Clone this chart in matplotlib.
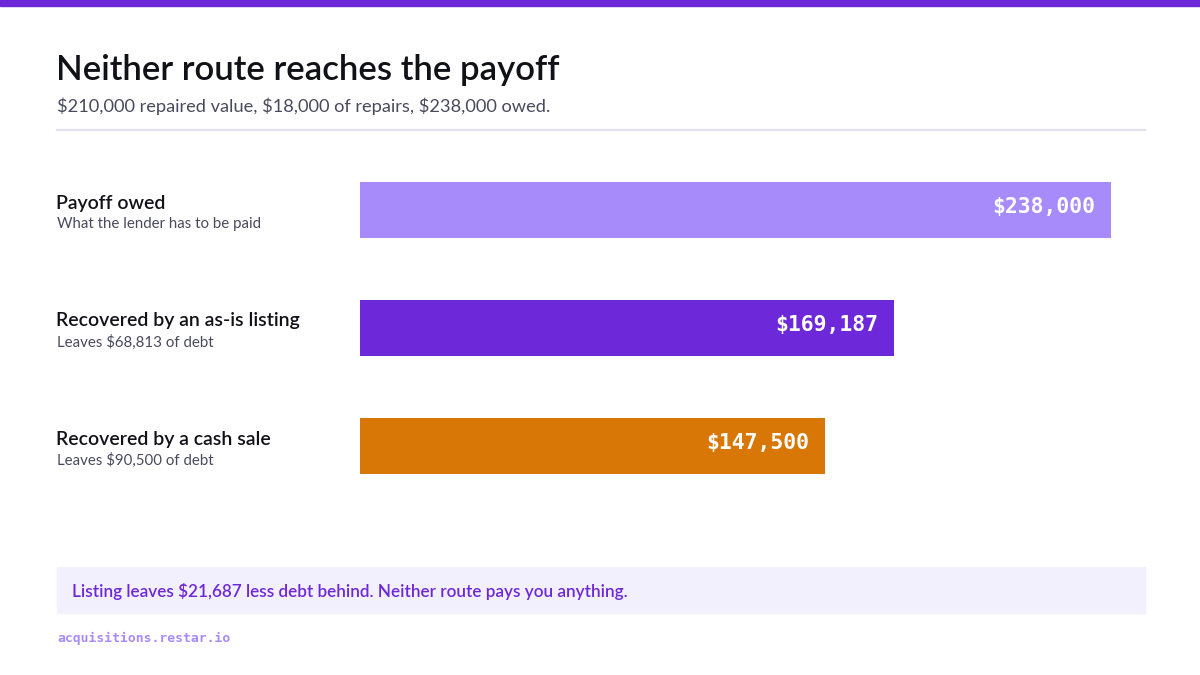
import matplotlib.pyplot as plt
from matplotlib.patches import Rectangle

# data
categories = ["Payoff owed", "Recovered by an as-is listing", "Recovered by a cash sale"]
notes = ["What the lender has to be paid", "Leaves $68,813 of debt", "Leaves $90,500 of debt"]
values = [238000, 169187, 147500]
bar_colors = ["#a78bfa", "#6d28d9", "#d97706"]

title = "Neither route reaches the payoff"
subtitle = "$210,000 repaired value, $18,000 of repairs, $238,000 owed."
callout = "Listing leaves $21,687 less debt behind. Neither route pays you anything."
footer = "acquisitions.restar.io"

W, H = 1200, 675
fig = plt.figure(figsize=(12, 6.75), dpi=100)
fig.patch.set_facecolor("white")

def fx(px):
    return px / W

def fy(py):
    return 1 - py / H

sans = ["Lato", "DejaVu Sans"]
mono = ["DejaVu Sans Mono"]

# top accent strip
fig.patches.append(Rectangle((0, fy(6)), 1, 6 / H, transform=fig.transFigure,
                             color="#6d28d9", zorder=0))

fig.text(fx(56), fy(70), title, fontsize=25, fontweight=600, family=sans,
         color="#111118", va="center", ha="left")
fig.text(fx(57), fy(106), subtitle, fontsize=13.15, family=sans,
         color="#4a4a5e", va="center", ha="left")
fig.add_artist(plt.Line2D([fx(57), fx(1145)], [fy(130), fy(130)], transform=fig.transFigure,
                          color="#e2e0ec", lw=1.6))

# bar axes: 0..238000 spans px 360..1111, bars 182..474
ax = fig.add_axes([fx(360), fy(474), fx(1111 - 360), (474 - 182) / H])
h = 56 / 118
pos = list(range(len(values)))
ax.barh(pos, values, height=h, color=bar_colors)
ax.set_xlim(0, max(values))
ax.set_ylim(len(values) - 1 + h / 2, -h / 2)
ax.axis("off")

for i, v in enumerate(values):
    ax.annotate(f"${v:,}", xy=(v, i), xytext=(-16, 3), textcoords="offset pixels",
                ha="right", va="center", color="white", fontsize=15.4,
                fontweight="bold", family=mono)

# row labels
for i, (c, n) in enumerate(zip(categories, notes)):
    yc = 210 + 118 * i
    fig.text(fx(56), fy(yc - 7), c, fontsize=14, fontweight=600, family=sans,
             color="#111118", va="center", ha="left")
    fig.text(fx(57), fy(yc + 14), n, fontsize=10.85, family=sans,
             color="#4a4a5e", va="center", ha="left")

# callout box
fig.patches.append(Rectangle((fx(57), fy(613)), fx(1145 - 57), (613 - 567) / H,
                             transform=fig.transFigure, color="#f3f0fd", zorder=0))
fig.text(fx(72), fy(591), callout, fontsize=12.3, fontweight=600, family=sans,
         color="#6d28d9", va="center", ha="left")

fig.text(fx(57), fy(638), footer, fontsize=9.4, fontweight="bold", family=mono,
         color="#a78bfa", va="center", ha="left")

fig.savefig("out.png", dpi=100)
